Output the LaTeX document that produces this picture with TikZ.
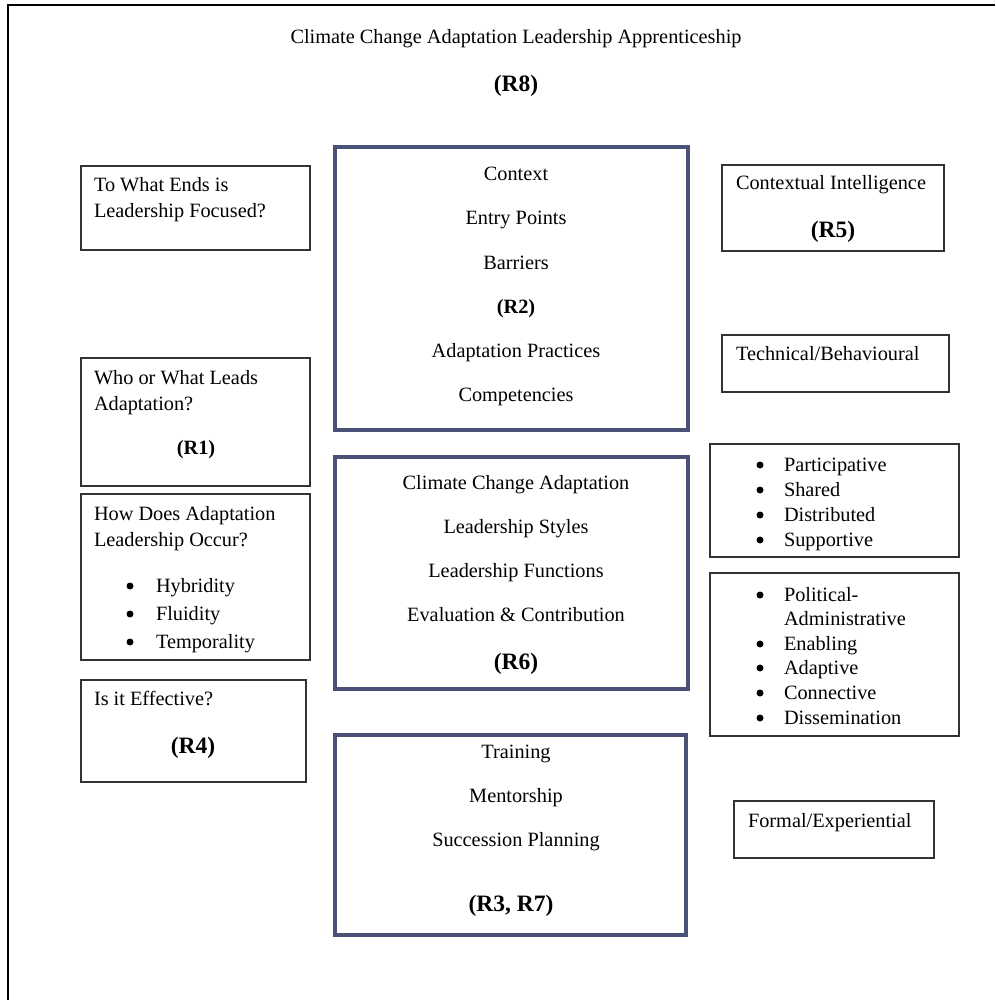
\documentclass[tikz,border=0pt]{standalone}
\usepackage{fontspec}
\setmainfont{Liberation Serif}
\begin{document}
\begin{tikzpicture}[x=1pt,y=-1pt,
  every node/.style={inner sep=0pt,outer sep=0pt,font=\fontsize{20.3}{25}\selectfont},
  mainbox/.style={draw=frameblue,line width=3.2pt,fill=none},
  sidebox/.style={draw=boxgrey,line width=1.6pt,fill=none},
  txt/.style={anchor=base},
  ltxt/.style={anchor=base west},
  tag/.style={anchor=base,font=\fontsize{20.3}{25}\selectfont\bfseries},
  bigtag/.style={anchor=base,font=\fontsize{23.5}{28}\selectfont\bfseries},
  dot/.style={circle,fill=black,draw=none,minimum size=7pt,yshift=6pt}
]
\definecolor{frameblue}{HTML}{4B5278}
\definecolor{boxgrey}{HTML}{333333}
\useasboundingbox (0,0) rectangle (995,1000);

% outer frame (top and left edges)
\coordinate (fbl) at (8,1000);
\coordinate (ftl) at (8,5);
\coordinate (ftr) at (995,5);
\draw[line width=2.4pt,black] (fbl) -- (ftl) -- (ftr);

% heading
\node[txt] (title) at (516,44) {Climate Change Adaptation Leadership Apprenticeship};
\node[bigtag] (r8) at (516,92) {(R8)};

% central column
\node[mainbox,minimum width=353pt,minimum height=283pt] (ctx) at (511.5,288.5) {};
\node[txt] (c1) at (516,181) {Context};
\node[txt] (c2) at (516,225) {Entry Points};
\node[txt] (c3) at (516,269) {Barriers};
\node[tag] (r2) at (516,313) {(R2)};
\node[txt] (c5) at (516,357) {Adaptation Practices};
\node[txt] (c6) at (516,401) {Competencies};

\node[mainbox,minimum width=353pt,minimum height=232pt] (sty) at (511.5,573) {};
\node[txt] (s1) at (516,489) {Climate Change Adaptation};
\node[txt] (s2) at (516,533) {Leadership Styles};
\node[txt] (s3) at (516,577) {Leadership Functions};
\node[txt] (s4) at (516,621) {Evaluation \& Contribution};
\node[bigtag] (r6) at (516,669) {(R6)};

\node[mainbox,minimum width=351pt,minimum height=200pt] (trn) at (510.5,835) {};
\node[txt] (t1) at (516,758) {Training};
\node[txt] (t2) at (516,802) {Mentorship};
\node[txt] (t3) at (516,846) {Succession Planning};
\node[bigtag] (r37) at (511,911) {(R3, R7)};

% left column
\node[sidebox,minimum width=229pt,minimum height=84pt] (ends) at (195.5,208) {};
\node[ltxt] (e1) at (94,192) {To What Ends is};
\node[ltxt] (e2) at (94,218) {Leadership Focused?};

\node[sidebox,minimum width=229pt,minimum height=128pt] (who) at (195.5,422) {};
\node[ltxt] (w1) at (94,384) {Who or What Leads};
\node[ltxt] (w2) at (94,410) {Adaptation?};
\node[tag] (r1) at (196,454) {(R1)};

\node[sidebox,minimum width=229pt,minimum height=166pt] (how) at (195.5,577) {};
\node[ltxt] (h1) at (94,520) {How Does Adaptation};
\node[ltxt] (h2) at (94,546) {Leadership Occur?};
\node[dot] (hb1) at (130,592) {};
\node[ltxt] (h3) at (156,592) {Hybridity};
\node[dot] (hb2) at (130,620) {};
\node[ltxt] (h4) at (156,620) {Fluidity};
\node[dot] (hb3) at (130,648) {};
\node[ltxt] (h5) at (156,648) {Temporality};

\node[sidebox,minimum width=225pt,minimum height=102pt] (eff) at (193.5,731) {};
\node[ltxt] (f1) at (94,705) {Is it Effective?};
\node[bigtag] (r4) at (193,753) {(R4)};

% right column
\node[sidebox,minimum width=222pt,minimum height=86pt] (ci) at (833,208) {};
\node[ltxt] (ci1) at (736,190) {Contextual Intelligence};
\node[bigtag] (r5) at (833,237) {(R5)};

\node[sidebox,minimum width=227pt,minimum height=57pt] (tb) at (835.5,363.5) {};
\node[ltxt] (tb1) at (736,360) {Technical/Behavioural};

\node[sidebox,minimum width=249pt,minimum height=113pt] (part) at (834.5,500.5) {};
\node[dot] (pb1) at (760,471) {};
\node[ltxt] (p1) at (784,471) {Participative};
\node[dot] (pb2) at (760,496) {};
\node[ltxt] (p2) at (784,496) {Shared};
\node[dot] (pb3) at (760,521) {};
\node[ltxt] (p3) at (784,521) {Distributed};
\node[dot] (pb4) at (760,546) {};
\node[ltxt] (p4) at (784,546) {Supportive};

\node[sidebox,minimum width=249pt,minimum height=163pt] (fun) at (834.5,654.5) {};
\node[dot] (fb1) at (760,601) {};
\node[ltxt] (fn1) at (784,601) {Political-};
\node[ltxt] (fn2) at (784,625) {Administrative};
\node[dot] (fb2) at (760,650) {};
\node[ltxt] (fn3) at (784,650) {Enabling};
\node[dot] (fb3) at (760,674) {};
\node[ltxt] (fn4) at (784,674) {Adaptive};
\node[dot] (fb4) at (760,699) {};
\node[ltxt] (fn5) at (784,699) {Connective};
\node[dot] (fb5) at (760,724) {};
\node[ltxt] (fn6) at (784,724) {Dissemination};

\node[sidebox,minimum width=200pt,minimum height=57pt] (fe) at (834,829.5) {};
\node[ltxt] (fe1) at (748,827) {Formal/Experiential};
\end{tikzpicture}
\end{document}
